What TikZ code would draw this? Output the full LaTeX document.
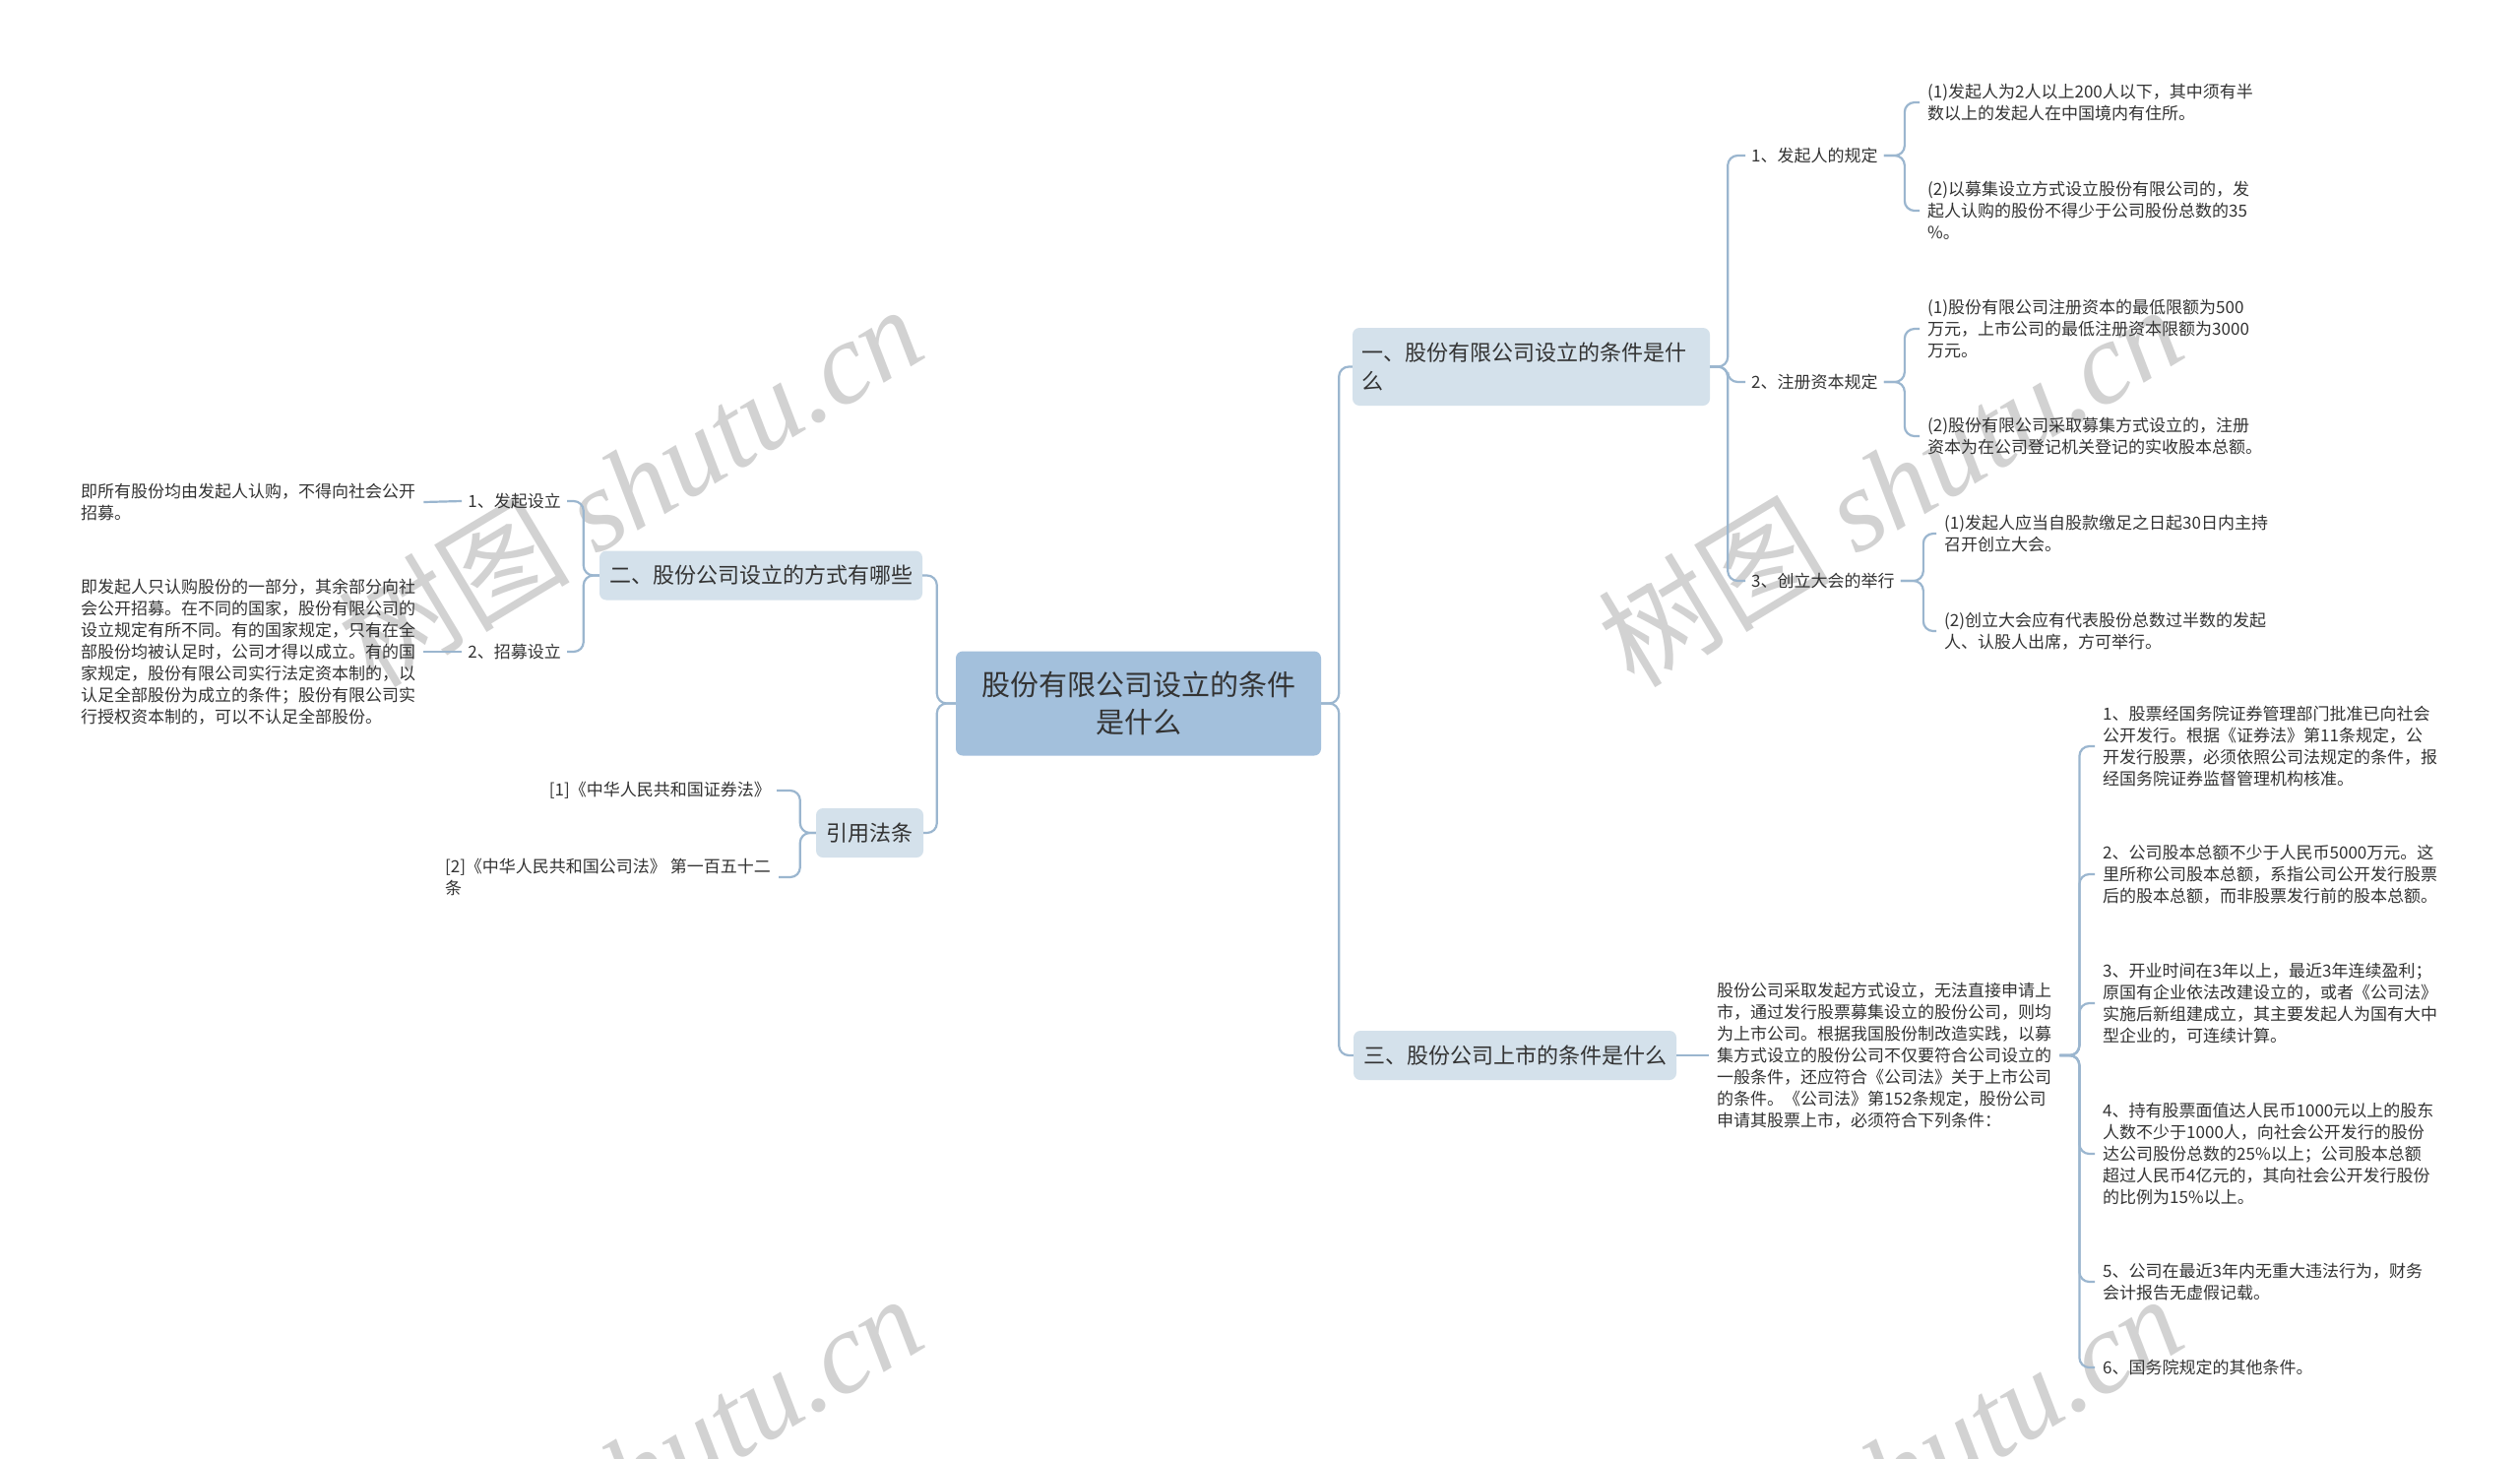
\documentclass[tikz,border=0pt]{standalone}
\usepackage{fontspec}
\setmainfont{Noto Sans CJK SC}
\newfontfamily\wmserif{Liberation Serif}
\definecolor{linec}{HTML}{9BB6CF}
\definecolor{rootc}{HTML}{A3C0DC}
\definecolor{boxc}{HTML}{D4E1EB}
\definecolor{txtc}{HTML}{333333}
\definecolor{wmc}{HTML}{D2D2D2}
\tikzset{
 rootbox/.style={fill=rootc, rounded corners=7pt, text=txtc, font=\fontsize{29}{38}\selectfont, align=center, minimum width=371pt, minimum height=106pt, inner sep=0pt},
 brbox/.style={fill=boxc, rounded corners=7pt, text=txtc, font=\fontsize{22}{29}\selectfont, minimum height=50pt, inner sep=0pt},
 lbl/.style={text=txtc, font=\fontsize{17}{22}\selectfont, inner xsep=6pt, inner ysep=2pt},
 leaf/.style={text=txtc, font=\fontsize{17}{22}\selectfont, align=left, inner xsep=8pt, inner ysep=2pt},
 conn/.style={draw=linec, line width=2.2pt, rounded corners=10pt},
 wm/.style={text=wmc, rotate=31, font=\fontsize{118}{118}\selectfont, inner sep=0pt},
}
\begin{document}
\begin{tikzpicture}[x=1pt,y=-1pt]
\useasboundingbox (0,0) rectangle (2560,1481);
\fill[white] (0,0) rectangle (2560,1481);
\begin{scope}
\clip (0,0) rectangle (2560,1481);
\foreach \dx/\dy [count=\i] in {0/0,1280/0,0/1005,1280/1005}
  \node[wm] (wm\i) at (640+\dx,492+\dy) {树图 {\wmserif\itshape shutu.cn}};
\end{scope}

% root and branches
\node[rootbox] (root) at (1156.5,714.5) {股份有限公司设立的条件\\是什么};
\node[brbox, minimum width=363pt, minimum height=79pt, text width=345pt, align=left] (b1) at (1555.5,372.5) {一、股份有限公司设立的条件是什\\么};
\node[brbox, minimum width=328pt] (b2) at (773,584.5) {二、股份公司设立的方式有哪些};
\node[brbox, minimum width=328pt] (b3) at (1539,1072) {三、股份公司上市的条件是什么};
\node[brbox, minimum width=109pt] (cite) at (883.5,846) {引用法条};

% branch 1 children
\node[lbl, anchor=west] (s1) at (1773,158) {1、发起人的规定};
\node[lbl, anchor=west] (s2) at (1773,388) {2、注册资本规定};
\node[lbl, anchor=west] (s3) at (1773,590) {3、创立大会的举行};

\node[leaf, anchor=west] (r1a) at (1950,104) {(1)发起人为2人以上200人以下，其中须有半\\数以上的发起人在中国境内有住所。};
\node[leaf, anchor=west] (r1b) at (1950,214) {(2)以募集设立方式设立股份有限公司的，发\\起人认购的股份不得少于公司股份总数的35\\\%。};
\node[leaf, anchor=west] (r2a) at (1950,334) {(1)股份有限公司注册资本的最低限额为500\\万元，上市公司的最低注册资本限额为3000\\万元。};
\node[leaf, anchor=west] (r2b) at (1950,443) {(2)股份有限公司采取募集方式设立的，注册\\资本为在公司登记机关登记的实收股本总额。};
\node[leaf, anchor=west] (r3a) at (1967,542) {(1)发起人应当自股款缴足之日起30日内主持\\召开创立大会。};
\node[leaf, anchor=west] (r3b) at (1967,641) {(2)创立大会应有代表股份总数过半数的发起\\人、认股人出席，方可举行。};

% branch 3 children
\node[leaf, anchor=west] (t3) at (1736,1072) {股份公司采取发起方式设立，无法直接申请上\\市，通过发行股票募集设立的股份公司，则均\\为上市公司。根据我国股份制改造实践，以募\\集方式设立的股份公司不仅要符合公司设立的\\一般条件，还应符合《公司法》关于上市公司\\的条件。《公司法》第152条规定，股份公司\\申请其股票上市，必须符合下列条件：};
\node[leaf, anchor=west] (i1) at (2128,758) {1、股票经国务院证券管理部门批准已向社会\\公开发行。根据《证券法》第11条规定，公\\开发行股票，必须依照公司法规定的条件，报\\经国务院证券监督管理机构核准。};
\node[leaf, anchor=west] (i2) at (2128,888) {2、公司股本总额不少于人民币5000万元。这\\里所称公司股本总额，系指公司公开发行股票\\后的股本总额，而非股票发行前的股本总额。};
\node[leaf, anchor=west] (i3) at (2128,1019) {3、开业时间在3年以上，最近3年连续盈利；\\原国有企业依法改建设立的，或者《公司法》\\实施后新组建成立，其主要发起人为国有大中\\型企业的，可连续计算。};
\node[leaf, anchor=west] (i4) at (2128,1172) {4、持有股票面值达人民币1000元以上的股东\\人数不少于1000人，向社会公开发行的股份\\达公司股份总数的25\%以上；公司股本总额\\超过人民币4亿元的，其向社会公开发行股份\\的比例为15\%以上。};
\node[leaf, anchor=west] (i5) at (2128,1302) {5、公司在最近3年内无重大违法行为，财务\\会计报告无虚假记载。};
\node[leaf, anchor=west] (i6) at (2128,1389) {6、国务院规定的其他条件。};

% branch 2 children
\node[lbl, anchor=east] (l1) at (576,509) {1、发起设立};
\node[lbl, anchor=east] (l2) at (576,662) {2、招募设立};
\node[leaf, anchor=west] (L1) at (74,510) {即所有股份均由发起人认购，不得向社会公开\\招募。};
\node[leaf, anchor=west] (L2) at (74,662) {即发起人只认购股份的一部分，其余部分向社\\会公开招募。在不同的国家，股份有限公司的\\设立规定有所不同。有的国家规定，只有在全\\部股份均被认足时，公司才得以成立。有的国\\家规定，股份有限公司实行法定资本制的，以\\认足全部股份为成立的条件；股份有限公司实\\行授权资本制的，可以不认足全部股份。};

% citations
\node[lbl, anchor=east] (c1) at (789,803) {[1]《中华人民共和国证券法》};
\node[leaf, anchor=east] (c2) at (791,891) {[2]《中华人民共和国公司法》 第一百五十二\\条};

% connectors
\foreach \c in {b2,cite} \draw[conn] (root.west) -- ++(-19,0) |- (\c.east);
\foreach \c in {b1,b3} \draw[conn] (root.east) -- ++(18,0) |- (\c.west);
\foreach \c in {s1,s2,s3} \draw[conn] (b1.east) -- ++(18,0) |- (\c.west);
\foreach \c in {r1a,r1b} \draw[conn] (s1.east) -- ++(21,0) |- (\c.west);
\foreach \c in {r2a,r2b} \draw[conn] (s2.east) -- ++(21,0) |- (\c.west);
\foreach \c in {r3a,r3b} \draw[conn] (s3.east) -- ++(23,0) |- (\c.west);
\draw[conn] (b3.east) -- (t3.west);
\foreach \c in {i1,i2,i3,i4,i5,i6} \draw[conn] (t3.east) -- ++(20,0) |- (\c.west);
\foreach \c in {l1,l2} \draw[conn] (b2.west) -- ++(-16,0) |- (\c.east);
\draw[conn] (l1.west) -- (L1.east);
\draw[conn] (l2.west) -- (L2.east);
\foreach \c in {c1,c2} \draw[conn] (cite.west) -- ++(-16,0) |- (\c.east);
\end{tikzpicture}
\end{document}
